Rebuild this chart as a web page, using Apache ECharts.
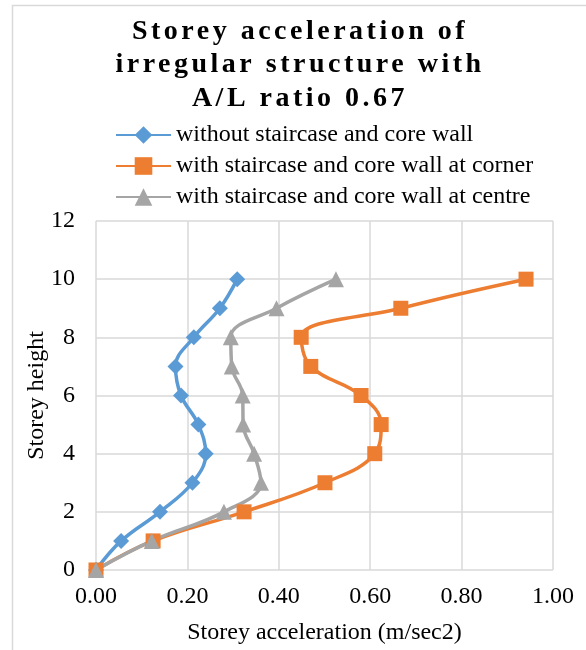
<!DOCTYPE html>
<html>
<head>
<meta charset="utf-8">
<script src="https://cdn.jsdelivr.net/npm/echarts@6/dist/echarts.min.js"></script>
<style>
  html, body { margin: 0; padding: 0; background: #fff; }
  #chart { width: 586px; height: 650px; }
</style>
</head>
<body>
<div id="chart"></div>
<script>
const storeys = [0, 1, 2, 3, 4, 5, 6, 7, 8, 9, 10];
const withoutCore = [0, 0.055, 0.140, 0.211, 0.240, 0.224, 0.186, 0.174, 0.214, 0.271, 0.309];
const coreCorner  = [0, 0.125, 0.324, 0.501, 0.610, 0.624, 0.580, 0.470, 0.449, 0.667, 0.941];
const coreCentre  = [0, 0.122, 0.280, 0.361, 0.346, 0.322, 0.321, 0.297, 0.295, 0.395, 0.525];
const seriesNames = [
  'without staircase and core wall',
  'with staircase and core wall at corner',
  'with staircase and core wall at centre'
];
const xTicks = [0, 0.2, 0.4, 0.6, 0.8, 1.0];

const serif = '"Liberation Serif", "Times New Roman", serif';
const pairs = arr => arr.map((v, i) => [v, storeys[i]]);

// wide letter spacing for the bold title text (as in the reference)
(function () {
  const proto = CanvasRenderingContext2D.prototype;
  const orig = proto.fillText;
  proto.fillText = function (t, x, y, w) {
    if ('letterSpacing' in this) {
      this.letterSpacing = /bold/.test(this.font) ? '3.5px' : '0px';
    }
    return w === undefined ? orig.call(this, t, x, y) : orig.call(this, t, x, y, w);
  };
})();

const chart = echarts.init(document.getElementById('chart'), null, { renderer: 'canvas' });
chart.setOption({
  animation: false,
  backgroundColor: '#fff',
  title: {
    text: 'Storey acceleration of\nirregular structure with\nA/L ratio 0.67',
    left: 300,
    textAlign: 'center',
    top: 15,
    padding: 0,
    textStyle: { fontFamily: serif, fontWeight: 'bold', fontSize: 28, lineHeight: 33.5, color: '#000' }
  },
  legend: {
    orient: 'vertical',
    left: 115,
    top: 123,
    padding: 0,
    itemWidth: 55,
    itemHeight: 22,
    itemGap: 7,
    textStyle: { fontFamily: serif, fontSize: 24, color: '#000' },
    data: seriesNames
  },
  graphic: [{
    type: 'rect',
    shape: { x: 12.5, y: 5.5, width: 700, height: 800 },
    style: { fill: 'none', stroke: '#d9d9d9', lineWidth: 1.5 },
    silent: true
  }],
  grid: { left: 96, right: 33, top: 221, bottom: 77, containLabel: false },
  xAxis: {
    type: 'value',
    min: xTicks[0],
    max: xTicks[xTicks.length - 1],
    interval: 0.2,
    name: 'Storey acceleration (m/sec2)',
    nameLocation: 'middle',
    nameMoveOverlap: false,
    nameGap: 51,
    nameTextStyle: { fontFamily: serif, fontSize: 24, color: '#000' },
    axisLine: { show: false },
    axisTick: { show: false },
    axisLabel: { fontFamily: serif, fontSize: 24, color: '#000', margin: 15, formatter: v => v.toFixed(2) },
    splitLine: { show: true, lineStyle: { color: '#d9d9d9', width: 1.5 } }
  },
  yAxis: {
    type: 'value',
    min: 0,
    max: 12,
    interval: 2,
    name: 'Storey height',
    nameLocation: 'middle',
    nameMoveOverlap: false,
    nameGap: 47,
    nameTextStyle: { fontFamily: serif, fontSize: 24, color: '#000' },
    axisLine: { show: false },
    axisTick: { show: false },
    axisLabel: { fontFamily: serif, fontSize: 24, color: '#000', margin: 21 },
    splitLine: { show: true, lineStyle: { color: '#d9d9d9', width: 1.5 } }
  },
  series: [
    {
      name: seriesNames[0], type: 'line', data: pairs(withoutCore), smooth: 0.4,
      symbol: 'diamond', symbolSize: 16,
      itemStyle: { color: '#5B9BD5' }, lineStyle: { color: '#5B9BD5', width: 3.5 }
    },
    {
      name: seriesNames[1], type: 'line', data: pairs(coreCorner), smooth: 0.4,
      symbol: 'rect', symbolSize: 15,
      itemStyle: { color: '#ED7D31' }, lineStyle: { color: '#ED7D31', width: 3.5 }
    },
    {
      name: seriesNames[2], type: 'line', data: pairs(coreCentre), smooth: 0.4,
      symbol: 'triangle', symbolSize: 16,
      itemStyle: { color: '#A5A5A5' }, lineStyle: { color: '#A5A5A5', width: 3.5 }
    }
  ]
});
</script>
</body>
</html>
